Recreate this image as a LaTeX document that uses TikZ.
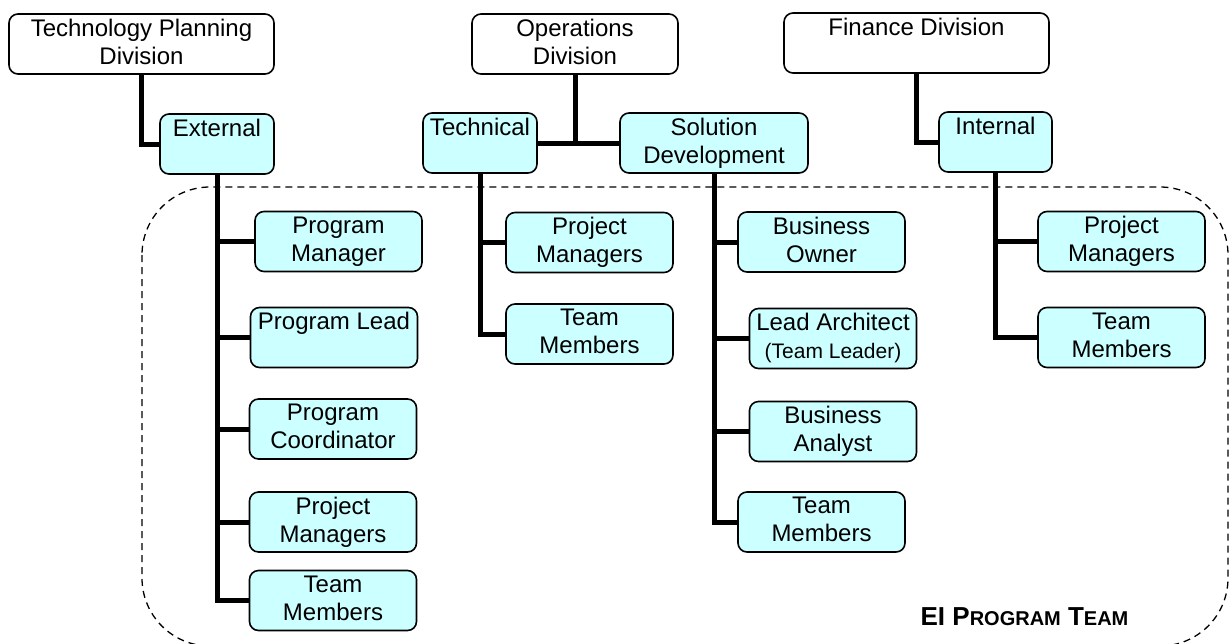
\documentclass[tikz,border=0pt]{standalone}
\usepackage{fontspec}
\setmainfont{Liberation Sans}
\definecolor{teamcyan}{HTML}{CCFFFF}
\newcommand{\smallcap}[1]{{\fontsize{20}{21}\selectfont #1}}
\tikzset{
  orgbox/.style={draw, line width=1.6pt, rounded corners=9pt, minimum width=#1,
    minimum height=60pt, inner sep=0pt, align=center,
    font=\fontsize{24}{28}\selectfont,
    execute at begin node={\rule{0pt}{27pt}},
    execute at end node={\rule[-5pt]{0pt}{5pt}}},
  divbox/.style={orgbox=#1, fill=white},
  unitbox/.style={orgbox=#1, fill=teamcyan},
  rolebox/.style={orgbox=167pt, fill=teamcyan},
  link/.style={line width=5pt},
  teamframe/.style={line width=1.3pt, dash pattern=on 7pt off 5pt, rounded corners=68pt}
}
\begin{document}
\begin{tikzpicture}[x=1pt,y=-1pt]
\useasboundingbox (0,0) rectangle (1230,643);
\draw[teamframe] (142,187) rectangle (1228,646);
% divisions
\node[divbox=265pt] (tpd) at (141.5,44) {Technology Planning\\Division};
\node[divbox=206pt] (ops) at (575,44) {Operations\\Division};
\node[divbox=265pt] (fin) at (916.5,43) {Finance Division\\};
% units
\node[unitbox=114pt] (ext) at (217,144) {External\\};
\node[unitbox=114pt] (tec) at (480,143) {Technical\\};
\node[unitbox=188pt] (sol) at (714,143) {Solution\\Development};
\node[unitbox=113pt] (int) at (995.5,142) {Internal\\};
% external roles
\node[rolebox] (epm) at (338.5,241.5) {Program\\Manager};
\node[rolebox] (epl) at (334,337.5) {Program Lead\\};
\node[rolebox] (epc) at (333,429) {Program\\Coordinator};
\node[rolebox] (eprj) at (333,522) {Project\\Managers};
\node[rolebox] (etm) at (333,600.5) {Team\\Members};
% technical roles
\node[rolebox] (tpm) at (589.5,242.5) {Project\\Managers};
\node[rolebox] (ttm) at (589.5,334) {Team\\Members};
% solution development roles
\node[rolebox] (sbo) at (821.5,242) {Business\\Owner};
\node[rolebox] (sla) at (833,338.5) {Lead Architect\\{\fontsize{21}{28}\selectfont(Team Leader)}};
\node[rolebox] (sba) at (833,431.5) {Business\\Analyst};
\node[rolebox] (stm) at (821.5,522) {Team\\Members};
% internal roles
\node[rolebox] (ipm) at (1121.5,241.5) {Project\\Managers};
\node[rolebox] (itm) at (1121.5,337.5) {Team\\Members};
% links
\draw[link] (tpd.south) |- (ext.west);
\draw[link] (ops.south) -- (ops.south |- tec.east);
\draw[link] (tec.east) -- (sol.west);
\draw[link] (fin.south) |- (int.west);
\draw[link] (ext.south) |- (epm.west);
\draw[link] (ext.south) |- (epl.west);
\draw[link] (ext.south) |- (epc.west);
\draw[link] (ext.south) |- (eprj.west);
\draw[link] (ext.south) |- (etm.west);
\draw[link] (tec.south) |- (tpm.west);
\draw[link] (tec.south) |- (ttm.west);
\draw[link] (sol.south) |- (sbo.west);
\draw[link] (sol.south) |- (sla.west);
\draw[link] (sol.south) |- (sba.west);
\draw[link] (sol.south) |- (stm.west);
\draw[link] (int.south) |- (ipm.west);
\draw[link] (int.south) |- (itm.west);
\node[anchor=base, font=\bfseries] (teamlbl) at (1024.5,625)
  {\fontsize{26}{26}\selectfont EI P\smallcap{ROGRAM} T\smallcap{EAM}};
\end{tikzpicture}
\end{document}
